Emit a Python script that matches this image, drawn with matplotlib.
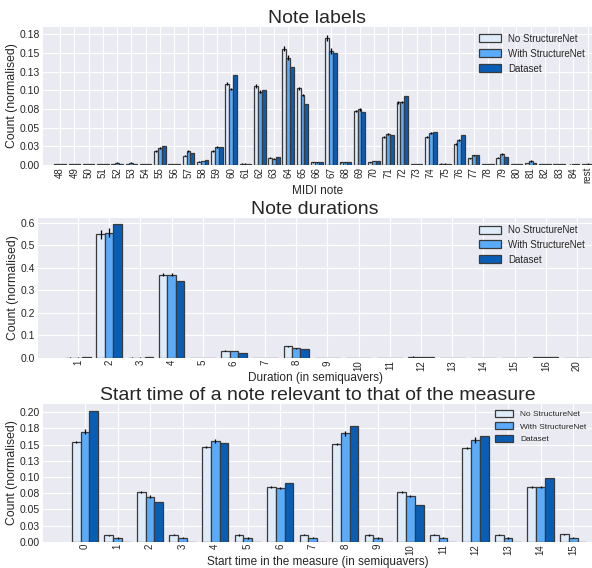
import matplotlib
matplotlib.use('Agg')
import matplotlib.pyplot as plt
import numpy as np
from matplotlib.ticker import MultipleLocator, FormatStrFormatter

plt.style.use('seaborn-v0_8-darkgrid')
plt.rcParams['font.family'] = ['Liberation Sans', 'DejaVu Sans']

series_names = ['No StructureNet', 'With StructureNet', 'Dataset']
colors = ['#deebf8', '#5aabf9', '#085db5']

# --- Note labels ---
note_labels = [str(n) for n in range(48, 85)] + ['rest']
notes_no = [0.001, 0.001, 0.001, 0.001, 0.001, 0.001, 0.001, 0.019, 0.001, 0.0125,
            0.0045, 0.019, 0.109, 0.002, 0.106, 0.010, 0.156, 0.1026, 0.0036, 0.1696,
            0.0036, 0.0723, 0.0036, 0.038, 0.0839, 0.001, 0.0375, 0.002, 0.028, 0.009,
            0.001, 0.010, 0.001, 0.0027, 0.001, 0.001, 0.0005, 0.001]
notes_with = [0.001, 0.001, 0.001, 0.001, 0.003, 0.003, 0.001, 0.023, 0.001, 0.0187,
              0.0054, 0.024, 0.102, 0.002, 0.098, 0.0085, 0.144, 0.0937, 0.0036, 0.153,
              0.0036, 0.0745, 0.005, 0.042, 0.0848, 0.001, 0.043, 0.002, 0.0335, 0.013,
              0.001, 0.0147, 0.001, 0.0054, 0.001, 0.001, 0.001, 0.002]
notes_data = [0.001, 0.001, 0.001, 0.001, 0.002, 0.002, 0.001, 0.0254, 0.001, 0.0165,
              0.0067, 0.024, 0.120, 0.002, 0.101, 0.011, 0.1316, 0.0817, 0.0036, 0.150,
              0.0036, 0.0714, 0.005, 0.0406, 0.0924, 0.001, 0.044, 0.002, 0.0406, 0.014,
              0.001, 0.011, 0.001, 0.0027, 0.001, 0.001, 0.001, 0.002]
notes_no_err = [0.0003, 0.0003, 0.0003, 0.0003, 0.0003, 0.0003, 0.0003, 0.001, 0.0003, 0.0008,
                0.0005, 0.001, 0.002, 0.0003, 0.003, 0.0008, 0.003, 0.002, 0.0003, 0.004,
                0.0003, 0.0015, 0.0003, 0.0012, 0.0015, 0.0003, 0.0015, 0.0003, 0.001, 0.0008,
                0.0003, 0.0008, 0.0003, 0.0005, 0.0003, 0.0003, 0.0003, 0.0003]
notes_with_err = [0.0003, 0.0003, 0.0003, 0.0003, 0.0005, 0.0005, 0.0003, 0.001, 0.0003, 0.0008,
                  0.0005, 0.0015, 0.0015, 0.0003, 0.002, 0.0008, 0.003, 0.0015, 0.0003, 0.004,
                  0.0003, 0.0015, 0.0003, 0.0015, 0.0015, 0.0003, 0.0012, 0.0003, 0.0015, 0.0008,
                  0.0003, 0.0012, 0.0003, 0.0008, 0.0003, 0.0003, 0.0003, 0.0003]

# --- Note durations ---
dur_labels = ['1', '2', '3', '4', '5', '6', '7', '8', '9', '10', '11', '12', '13', '14', '15', '16', '20']
dur_no = [0.002, 0.548, 0.002, 0.370, 0.001, 0.0326, 0.001, 0.052, 0.001, 0.001,
          0.001, 0.006, 0.001, 0.001, 0.001, 0.005, 0.001]
dur_with = [0.002, 0.556, 0.002, 0.370, 0.001, 0.031, 0.001, 0.044, 0.001, 0.001,
            0.001, 0.005, 0.001, 0.001, 0.001, 0.004, 0.001]
dur_data = [0.005, 0.593, 0.003, 0.341, 0.0005, 0.024, 0.001, 0.040, 0.001, 0.001,
            0.001, 0.005, 0.001, 0.001, 0.001, 0.003, 0.001]
dur_no_err = [0.001, 0.02, 0.001, 0.005, 0.0005, 0.002, 0.0005, 0.002, 0.0005, 0.0005,
              0.0005, 0.001, 0.0005, 0.0005, 0.0005, 0.001, 0.0005]
dur_with_err = [0.001, 0.02, 0.001, 0.008, 0.0005, 0.002, 0.0005, 0.002, 0.0005, 0.0005,
                0.0005, 0.001, 0.0005, 0.0005, 0.0005, 0.001, 0.0005]

# --- Start time in measure ---
start_labels = [str(i) for i in range(16)]
start_no = [0.154, 0.0102, 0.077, 0.011, 0.146, 0.0107, 0.084, 0.011,
            0.151, 0.0107, 0.077, 0.011, 0.1448, 0.011, 0.084, 0.0118]
start_with = [0.170, 0.006, 0.0696, 0.0066, 0.155, 0.006, 0.083, 0.0066,
              0.167, 0.006, 0.0706, 0.0066, 0.157, 0.006, 0.084, 0.0066]
start_data = [0.202, 0.0005, 0.061, 0.0005, 0.152, 0.0005, 0.0905, 0.0005,
              0.1785, 0.0005, 0.0563, 0.0005, 0.1627, 0.0005, 0.099, 0.0005]
start_no_err = [0.0015, 0.001, 0.0015, 0.001, 0.0015, 0.001, 0.0015, 0.001,
                0.0015, 0.001, 0.0015, 0.001, 0.0015, 0.001, 0.0015, 0.001]
start_with_err = [0.004, 0.001, 0.002, 0.001, 0.003, 0.001, 0.0015, 0.001,
                  0.004, 0.001, 0.002, 0.001, 0.004, 0.001, 0.0015, 0.001]


def draw_panel(ax, labels, no, wth, data, no_err, wth_err, title, xlabel,
               xlim, ylim, step, fmt, legend_size):
    x = np.arange(len(labels))
    w = 0.27
    kw = dict(edgecolor='#3a3a3a', linewidth=0.9,
              error_kw=dict(ecolor='black', elinewidth=0.9, capsize=0))
    ax.bar(x - w, no, w, yerr=no_err, color=colors[0], label=series_names[0], **kw)
    ax.bar(x, wth, w, yerr=wth_err, color=colors[1], label=series_names[1], **kw)
    ax.bar(x + w, data, w, color=colors[2], label=series_names[2], **kw)
    ax.set_xticks(x)
    ax.set_xticklabels(labels, rotation=90, fontsize=7)
    ax.set_xlim(*xlim)
    ax.set_ylim(*ylim)
    ax.yaxis.set_major_locator(MultipleLocator(step))
    ax.yaxis.set_major_formatter(FormatStrFormatter(fmt))
    ax.tick_params(axis='y', labelsize=7.5, pad=2)
    ax.tick_params(axis='x', pad=1.5)
    ax.set_title(title, fontsize=14, pad=2)
    ax.set_xlabel(xlabel, fontsize=8.5, labelpad=1)
    ax.set_ylabel('Count (normalised)', fontsize=8.8, labelpad=1)
    ax.legend(loc='upper right', fontsize=legend_size, frameon=False,
              handlelength=2.2, handleheight=0.9, borderaxespad=0.3)


fig = plt.figure(figsize=(5.92, 5.68), dpi=100)
ax1 = fig.add_axes([0.0726, 0.7095, 0.9274, 0.243])
ax2 = fig.add_axes([0.0642, 0.3697, 0.9358, 0.2463])
ax3 = fig.add_axes([0.0726, 0.0460, 0.9274, 0.2427])

draw_panel(ax1, note_labels, notes_no, notes_with, notes_data, notes_no_err, notes_with_err,
           'Note labels', 'MIDI note', (-1.2, 37.3), (0, 0.185), 0.025, '%.2f', 7)
draw_panel(ax2, dur_labels, dur_no, dur_with, dur_data, dur_no_err, dur_with_err,
           'Note durations', 'Duration (in semiquavers)', (-1.28, 16.48), (0, 0.62), 0.1, '%.1f', 7)
draw_panel(ax3, start_labels, start_no, start_with, start_data, start_no_err, start_with_err,
           'Start time of a note relevant to that of the measure',
           'Start time in the measure (in semiquavers)', (-1.29, 15.58), (0, 0.2124), 0.025, '%.2f', 6)

fig.savefig('out.png', dpi=100)
